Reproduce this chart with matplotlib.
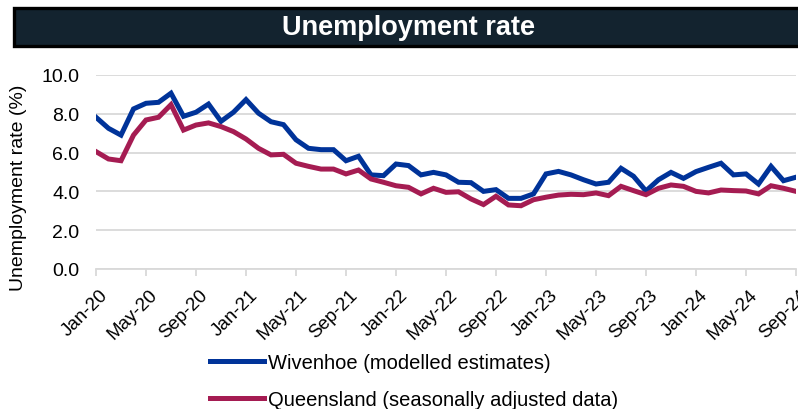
import numpy as np
import pandas as pd
import matplotlib
matplotlib.use("Agg")
import matplotlib.pyplot as plt
import matplotlib.transforms as mtransforms
from matplotlib.patches import Rectangle

plt.rcParams['font.family'] = ['Liberation Sans', 'DejaVu Sans']

months = pd.date_range('2020-01-01', periods=57, freq='MS')
month_labels = [d.strftime('%b-%y') for d in months]

wivenhoe = [7.82, 7.25, 6.90, 8.25, 8.54, 8.59, 9.06, 7.87, 8.08, 8.50, 7.61, 8.08,
            8.73, 8.03, 7.59, 7.44, 6.66, 6.22, 6.15, 6.15, 5.58, 5.81, 4.85, 4.81,
            5.41, 5.33, 4.85, 4.98, 4.85, 4.47, 4.45, 4.00, 4.09, 3.64, 3.64, 3.87,
            4.90, 5.03, 4.85, 4.60, 4.38, 4.47, 5.19, 4.78, 4.02, 4.60, 4.98, 4.67,
            5.02, 5.24, 5.45, 4.85, 4.90, 4.38, 5.29, 4.55, 4.73]
queensland = [6.05, 5.67, 5.58, 6.90, 7.68, 7.82, 8.47, 7.16, 7.42, 7.53, 7.34, 7.08,
              6.70, 6.22, 5.88, 5.91, 5.45, 5.29, 5.15, 5.15, 4.90, 5.10, 4.64, 4.47,
              4.29, 4.21, 3.87, 4.16, 3.95, 3.98, 3.61, 3.32, 3.75, 3.30, 3.26, 3.57,
              3.70, 3.81, 3.85, 3.83, 3.92, 3.78, 4.26, 4.04, 3.83, 4.16, 4.33, 4.26,
              4.00, 3.92, 4.07, 4.04, 4.02, 3.87, 4.29, 4.16, 4.00]

series_names = ['Wivenhoe (modelled estimates)', 'Queensland (seasonally adjusted data)']
colors = ['#003399', '#A51C52']

fig = plt.figure(figsize=(7.98, 4.10), dpi=100)
ax = fig.add_axes([0.1203, 0.3415, 0.8772, 0.4732])

x = np.arange(len(months))
ax.plot(x, wivenhoe, color=colors[0], lw=3.6, label=series_names[0], solid_joinstyle='miter')
ax.plot(x, queensland, color=colors[1], lw=3.6, label=series_names[1], solid_joinstyle='miter')

ax.set_xlim(0, len(months) - 1)
ax.set_ylim(0, 10)
yt = np.arange(0, 10.1, 2)
ax.set_yticks(yt)
ax.set_yticklabels([f'{v:.1f}' for v in yt], fontsize=14)
ax.yaxis.grid(True, color='#d9d9d9', lw=1.3)
ax.set_axisbelow(True)
ax.tick_params(axis='y', length=0, pad=12)

ticks = x[::4]
ax.set_xticks(ticks)
ax.set_xticklabels([month_labels[i] for i in ticks], rotation=45, ha='right',
                   rotation_mode='anchor', fontsize=13.5)
ax.tick_params(axis='x', length=5, color='#d9d9d9', width=1.3, pad=7)
offset = mtransforms.ScaledTranslation(3 / 100, 0, fig.dpi_scale_trans)
for lab in ax.get_xticklabels():
    lab.set_transform(lab.get_transform() + offset)

for s in ['top', 'right', 'left']:
    ax.spines[s].set_visible(False)
ax.spines['bottom'].set_color('#d9d9d9')
ax.spines['bottom'].set_linewidth(1.3)

fig.text(0.0226, 0.543, 'Unemployment rate (%)', rotation=90, ha='center', va='center', fontsize=14)

# title bar
fig.patches.append(Rectangle((0.017, 0.886), 0.99, 0.093, transform=fig.transFigure,
                             facecolor='#13232F', edgecolor='black', lw=2.4))
fig.text(0.5125, 0.932, 'Unemployment rate', color='white', fontsize=19.5, fontweight='bold',
         ha='center', va='center')

leg = fig.legend(loc='center left', bbox_to_anchor=(0.263, 0.069), frameon=False,
                 fontsize=14.5, handlelength=2.7, handletextpad=0.2, labelspacing=0.9,
                 borderpad=0, borderaxespad=0)

fig.savefig('out.png', dpi=100)
